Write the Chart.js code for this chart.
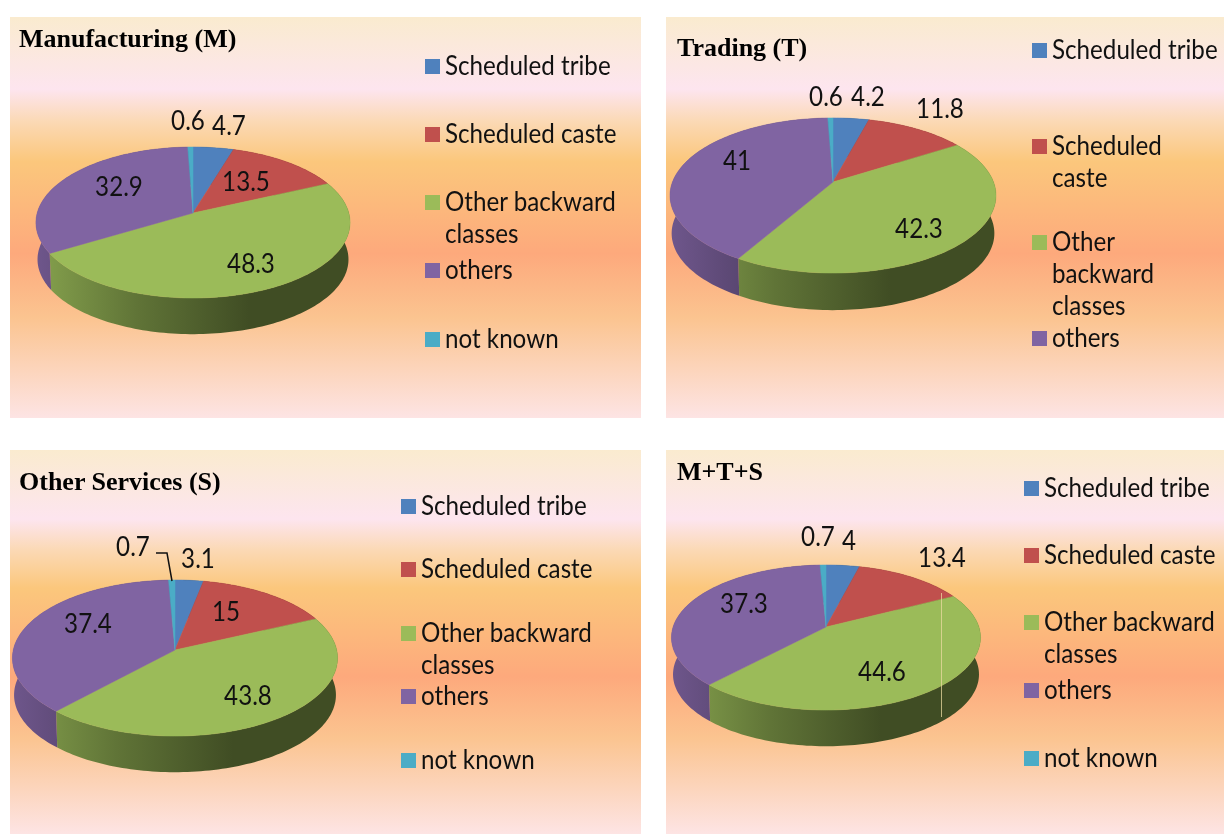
<!DOCTYPE html>
<html>
<head>
<meta charset="utf-8">
<title>Social groups by sector</title>
<script src="https://cdn.jsdelivr.net/npm/chart.js@4"></script>
<style>
  html, body { margin: 0; padding: 0; background: #fff; }
  body { position: relative; width: 1224px; height: 835px; overflow: hidden; }
  .panel {
    position: absolute;
    background: linear-gradient(to bottom, #faebcf 0%, #fde5ef 18%, #fbd9b5 26%, #fbc77c 36%, #fda97c 59%, #fbc490 75%, #fde4e4 100%);
  }
  .panel canvas { position: absolute; left: 0; top: 0; }
  .title { position: absolute; font: bold 26px "Liberation Serif", serif; color: #000; white-space: nowrap; line-height: 24px; }
  .swatch { position: absolute; width: 15px; height: 15px; }
  .legend-text {
    position: absolute; font: 26px Lato, sans-serif; color: #111; white-space: nowrap;
    line-height: 30px; transform-origin: left center; transform: scaleX(0.93);
  }
  .scan-line { position: absolute; width: 1px; background: #e9d9a0; opacity: 0.75; }
</style>
</head>
<body>
<script>
// Chart data
const categories = ['Scheduled tribe', 'Scheduled caste', 'Other backward classes', 'others', 'not known'];
const manufacturing = [4.7, 13.5, 48.3, 32.9, 0.6];
const trading = [4.2, 11.8, 42.3, 41, 0.6];
const otherServices = [3.1, 15, 43.8, 37.4, 0.7];
const allSectors = [4, 13.4, 44.6, 37.3, 0.7];
const sliceColors = ['#4f81bd', '#c0504d', '#9bbb59', '#8064a2', '#4bacc6'];

// Panels, in page pixels. pie: centre, radii, perspective strength, wall height
const panels = [
  {
    title: 'Manufacturing (M)', values: manufacturing,
    box: { x: 10, y: 17, w: 631, h: 401 }, titleAt: [19, 27],
    pie: { cx: 193, cy: 213, rx: 155.8, ry: 74.3, k: 0.126, depth: 37 },
    labelAt: [[229, 127], [246, 183], [251, 265], [119, 188], [188, 122]],
    legendX: 425,
    legend: [[66, ['Scheduled tribe']], [134, ['Scheduled caste']], [202, ['Other backward', 'classes']], [270, ['others']], [339, ['not known']]],
    lineGap: 32
  },
  {
    title: 'Trading (T)', values: trading,
    box: { x: 666, y: 17, w: 558, h: 401 }, titleAt: [677, 36],
    pie: { cx: 833, cy: 182, rx: 160.5, ry: 75.2, k: 0.174, depth: 38 },
    labelAt: [[868, 98], [940, 110], [919, 230], [737, 162], [826, 98]],
    legendX: 1032,
    legend: [[50, ['Scheduled tribe']], [146, ['Scheduled', 'caste']], [242, ['Other', 'backward', 'classes']], [338, ['others']]],
    lineGap: 32
  },
  {
    title: 'Other Services (S)', values: otherServices,
    box: { x: 10, y: 450, w: 631, h: 384 }, titleAt: [19, 470],
    pie: { cx: 175, cy: 650, rx: 161.7, ry: 77.2, k: 0.103, depth: 37 },
    labelAt: [[198, 560], [226, 613], [248, 697], [88, 625], [133, 548]],
    leader: [[156, 553], [167, 553], [172, 581]],
    legendX: 401,
    legend: [[506, ['Scheduled tribe']], [569, ['Scheduled caste']], [633, ['Other backward', 'classes']], [696, ['others']], [760, ['not known']]],
    lineGap: 32
  },
  {
    title: 'M+T+S', values: allSectors,
    box: { x: 666, y: 450, w: 558, h: 384 }, titleAt: [677, 460],
    pie: { cx: 826, cy: 627, rx: 152.9, ry: 71, k: 0.145, depth: 37 },
    labelAt: [[849, 542], [942, 559], [882, 673], [744, 605], [818, 538]],
    scanLine: { x: 941, y1: 593, y2: 717 },
    legendX: 1024,
    legend: [[488, ['Scheduled tribe']], [555, ['Scheduled caste']], [622, ['Other backward', 'classes']], [690, ['others']], [758, ['not known']]],
    lineGap: 32
  }
];

// The lower rim sits further from the viewer, so it is a little smaller
const LOWER_RIM_SCALE = 0.99;

// Perspective projection of a point on the pie rim
function rimPoint(pie, angle) {
  const theta = angle + Math.PI / 2;
  const across = Math.sin(theta);
  const away = Math.cos(theta);
  const scale = 1 / (1 + pie.k * away);
  return [pie.cx + pie.rx * across * scale, pie.cy - pie.ry * away * scale];
}

function rimSamples(pie, arc) {
  const steps = Math.max(4, Math.ceil((arc.endAngle - arc.startAngle) * 40));
  const points = [];
  for (let i = 0; i <= steps; i++) {
    points.push(rimPoint(pie, arc.startAngle + (arc.endAngle - arc.startAngle) * i / steps));
  }
  return points;
}

// Darken a hex colour by a factor
function shade(hex, factor) {
  const n = parseInt(hex.slice(1), 16);
  const r = Math.round((n >> 16) * factor);
  const g = Math.round(((n >> 8) & 255) * factor);
  const b = Math.round((n & 255) * factor);
  return `rgb(${r},${g},${b})`;
}

/**
 * Draws the arcs Chart.js laid out as a tilted 3D pie
 */
const tiltedPie = {
  id: 'tiltedPie',
  beforeDatasetsDraw(chart, args, opts) {
    const { ctx } = chart;
    const { pie: pagePie, box } = opts.panel;
    const pie = { ...pagePie, cx: pagePie.cx - box.x, cy: pagePie.cy - box.y };
    const arcs = chart.getDatasetMeta(0).data;

    // Walls first, the top face covers the back ones
    arcs.forEach(arc => {
      const color = arc.options.backgroundColor;
      const rim = rimSamples(pie, arc);
      const wall = ctx.createLinearGradient(pie.cx - pie.rx, 0, pie.cx + pie.rx, 0);
      wall.addColorStop(0, shade(color, 0.86));
      wall.addColorStop(0.32, shade(color, 0.62));
      wall.addColorStop(0.68, shade(color, 0.41));
      wall.addColorStop(1, shade(color, 0.41));
      ctx.beginPath();
      rim.forEach(([x, y], i) => (i ? ctx.lineTo(x, y) : ctx.moveTo(x, y)));
      rim.reverse().forEach(([x, y]) => ctx.lineTo(
        pie.cx + (x - pie.cx) * LOWER_RIM_SCALE,
        pie.cy + (y - pie.cy) * LOWER_RIM_SCALE + pie.depth
      ));
      ctx.closePath();
      ctx.fillStyle = wall;
      ctx.fill();
    });

    arcs.forEach(arc => {
      ctx.beginPath();
      ctx.moveTo(pie.cx, pie.cy);
      rimSamples(pie, arc).forEach(([x, y]) => ctx.lineTo(x, y));
      ctx.closePath();
      ctx.fillStyle = arc.options.backgroundColor;
      ctx.strokeStyle = arc.options.backgroundColor;
      ctx.lineWidth = 0.5;
      ctx.fill();
      ctx.stroke();
    });
    return false;
  },
  afterDraw(chart, args, opts) {
    const { ctx } = chart;
    const { labelAt, box, leader, values } = opts.panel;

    if (leader) {
      ctx.beginPath();
      leader.forEach(([x, y], i) => (i ? ctx.lineTo(x - box.x, y - box.y) : ctx.moveTo(x - box.x, y - box.y)));
      ctx.strokeStyle = '#111';
      ctx.lineWidth = 1.5;
      ctx.stroke();
    }

    ctx.font = '26px Lato, sans-serif';
    ctx.fillStyle = '#111';
    ctx.textAlign = 'center';
    ctx.textBaseline = 'middle';
    values.forEach((value, i) => {
      ctx.save();
      ctx.translate(labelAt[i][0] - box.x, labelAt[i][1] - box.y);
      ctx.scale(0.93, 1);
      ctx.fillText(String(value), 0, 0);
      ctx.restore();
    });
  }
};

function addElement(className, left, top, parent) {
  const el = document.createElement('div');
  el.className = className;
  el.style.left = `${left}px`;
  el.style.top = `${top}px`;
  parent.appendChild(el);
  return el;
}

function renderPanel(panel) {
  const { box } = panel;
  const wrap = addElement('panel', box.x, box.y, document.body);
  wrap.style.width = `${box.w}px`;
  wrap.style.height = `${box.h}px`;

  const canvas = document.createElement('canvas');
  canvas.width = box.w;
  canvas.height = box.h;
  wrap.appendChild(canvas);

  new Chart(canvas.getContext('2d'), {
    type: 'pie',
    data: {
      labels: categories,
      datasets: [{ data: panel.values, backgroundColor: sliceColors, borderWidth: 0 }]
    },
    options: {
      responsive: false,
      animation: false,
      events: [],
      plugins: {
        legend: { display: false },
        tooltip: { enabled: false },
        tiltedPie: { panel }
      }
    },
    plugins: [tiltedPie]
  });

  const title = addElement('title', panel.titleAt[0] - box.x, panel.titleAt[1] - box.y, wrap);
  title.textContent = panel.title;

  panel.legend.forEach(([y, lines], index) => {
    const swatch = addElement('swatch', panel.legendX - box.x, y - 7.5 - box.y, wrap);
    swatch.style.background = sliceColors[index];
    lines.forEach((line, n) => {
      const text = addElement('legend-text', panel.legendX + 20 - box.x, y - 16 + n * panel.lineGap - box.y, wrap);
      text.textContent = line;
    });
  });

  if (panel.scanLine) {
    const line = addElement('scan-line', panel.scanLine.x - box.x, panel.scanLine.y1 - box.y, wrap);
    line.style.height = `${panel.scanLine.y2 - panel.scanLine.y1}px`;
  }
}

panels.forEach(renderPanel);
</script>
</body>
</html>
